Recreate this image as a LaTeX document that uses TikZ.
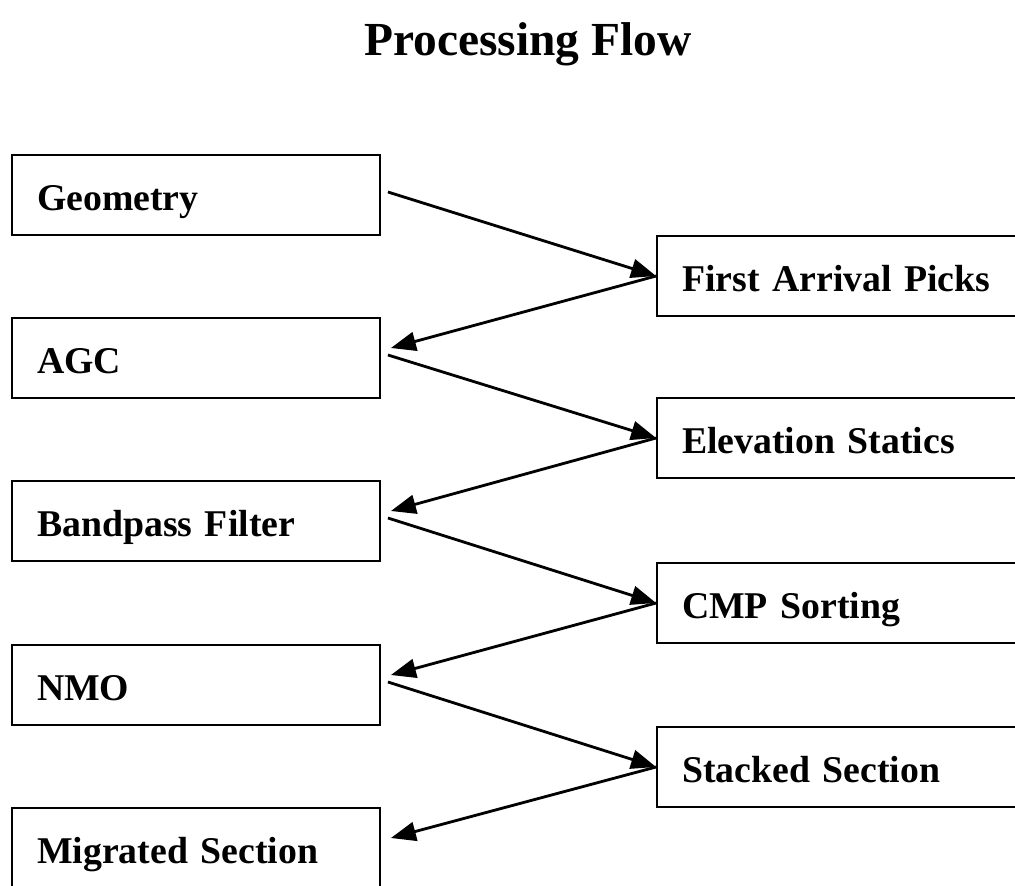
\documentclass[tikz,border=0pt]{standalone}
\usepackage{fontspec}
\setmainfont{Liberation Serif}
\usetikzlibrary{arrows.meta}
\tikzset{
  nd_title/.style={font=\fontsize{27}{30}\selectfont\bfseries},
  nd_step/.style={rectangle,draw=black,line width=1.1pt,text width=6.36cm,inner xsep=0.5cm,minimum height=1.6cm,text height=0.62cm,text depth=0pt,align=left,font=\fontsize{21.5}{24}\selectfont\bfseries},
  arr/.style={-{Triangle[length=0.5cm,width=0.38cm]},line width=1.6pt},
}
\begin{document}
\begin{tikzpicture}[x=0.02cm,y=-0.02cm]
\useasboundingbox (0,0) rectangle (1015,886);
\clip (0,0) rectangle (1015,886);
\def\cL{196}\def\cR{841}
\node[nd_title] at (528,44)(T){Processing Flow};
% left column
\node[nd_step] at (\cL,195)(G){Geometry};
\node[nd_step] at (\cL,358)(A){AGC};
\node[nd_step] at (\cL,521)(B){Bandpass Filter};
\node[nd_step] at (\cL,685)(N){NMO};
\node[nd_step] at (\cL,848)(M){Migrated Section};
% right column
\node[nd_step] at (\cR,276)(F){First Arrival Picks};
\node[nd_step] at (\cR,438)(E){Elevation Statics};
\node[nd_step] at (\cR,603)(C){CMP Sorting};
\node[nd_step] at (\cR,767)(S){Stacked Section};
% arrows
\foreach \a/\b in {G/F,A/E,B/C,N/S}{\draw[arr]([xshift=0.14cm,yshift=0.06cm]\a.east)--(\b.west);}
\foreach \a/\b in {F/A,E/B,C/N,S/M}{\draw[arr](\a.west)--([xshift=0.2cm,yshift=0.2cm]\b.east);}
\end{tikzpicture}
\end{document}
